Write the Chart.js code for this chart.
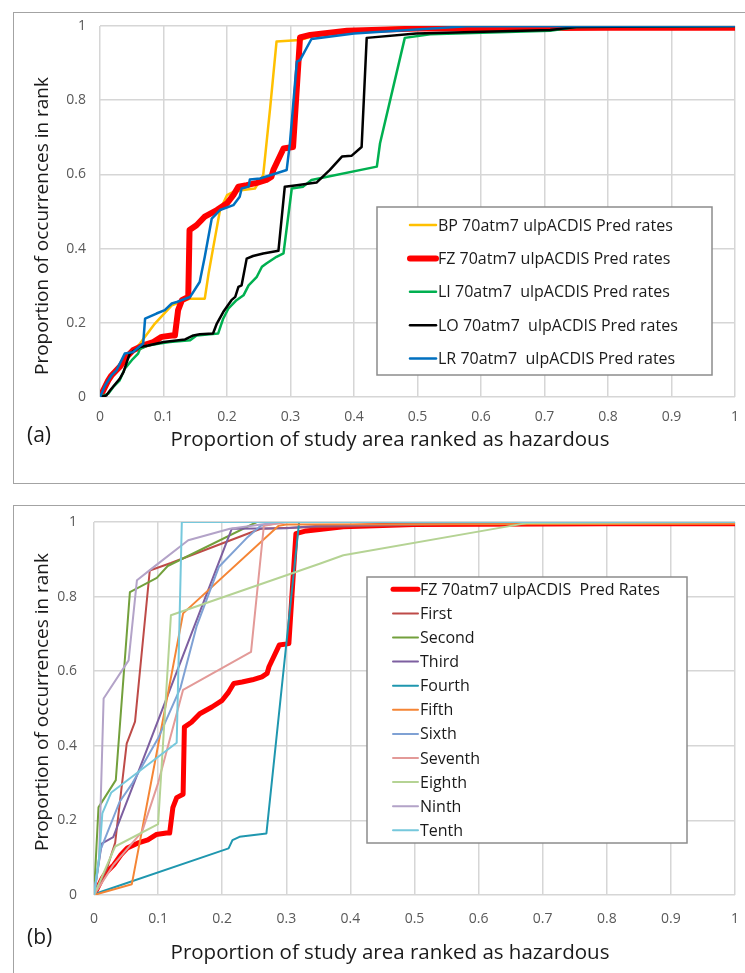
<!DOCTYPE html>
<html>
<head>
<meta charset="utf-8">
<script src="https://cdn.jsdelivr.net/npm/chart.js@4.4.1/dist/chart.umd.min.js"></script>
<style>
  body { margin: 0; width: 745px; height: 973px; overflow: hidden; background: #fff; font-family: 'Open Sans', sans-serif; }
  .panel { position: absolute; left: 13px; width: 780px; border: 1.5px solid #a3a3a3; }
  #pa { top: 12px; height: 470px; }
  #pb { top: 505px; height: 520px; }
  .wrap { position: absolute; left: 0; width: 745px; }
  #wa { top: 0; height: 480px; }
  #wb { top: 495px; height: 478px; }
  .tag { position: absolute; left: 27px; font-size: 21px; color: #1a1a1a; line-height: 24px; }
  .xt, .yt { position: absolute; white-space: nowrap; color: #1a1a1a; line-height: 24px; }
  .xt { font-size: 20.5px; transform: translate(-50%, -50%); }
  .yt { font-size: 19px; transform: translate(-50%, -50%) rotate(-90deg); }
</style>
</head>
<body>
<div class="panel" id="pa"></div>
<div class="panel" id="pb"></div>
<div class="wrap" id="wa"><canvas id="chartA" width="745" height="480"></canvas></div>
<div class="wrap" id="wb"><canvas id="chartB" width="745" height="478"></canvas></div>
<div class="tag" style="top:422px">(a)</div>
<div class="tag" style="top:924px">(b)</div>
<div class="xt" style="left:390px; top:438px">Proportion of study area ranked as hazardous</div>
<div class="xt" style="left:390px; top:951px">Proportion of study area ranked as hazardous</div>
<div class="yt" style="left:41px; top:226px">Proportion of occurrences in rank</div>
<div class="yt" style="left:41px; top:702px">Proportion of occurrences in rank</div>
<script>
// --- panel (a) ---
var bpX = [0, 0.01, 0.02, 0.03, 0.045, 0.063, 0.085, 0.113, 0.142, 0.165, 0.171, 0.178, 0.189, 0.2, 0.21, 0.225, 0.244, 0.257, 0.268, 0.278, 0.315, 0.35, 0.4, 0.49, 1];
var bpY = [0, 0.03, 0.06, 0.085, 0.11, 0.144, 0.195, 0.247, 0.265, 0.265, 0.333, 0.4, 0.504, 0.544, 0.553, 0.558, 0.562, 0.598, 0.78, 0.958, 0.962, 0.98, 0.99, 0.997, 1];

var fzX = [0, 0.013, 0.018, 0.031, 0.042, 0.052, 0.068, 0.084, 0.097, 0.113, 0.118, 0.123, 0.129, 0.139, 0.141, 0.152, 0.165, 0.184, 0.2, 0.21, 0.218, 0.231, 0.247, 0.262, 0.27, 0.273, 0.289, 0.304, 0.315, 0.331, 0.389, 0.5, 0.8, 1];
var fzY = [0, 0.045, 0.058, 0.081, 0.108, 0.126, 0.139, 0.148, 0.162, 0.166, 0.166, 0.234, 0.261, 0.27, 0.45, 0.463, 0.486, 0.504, 0.522, 0.544, 0.567, 0.571, 0.577, 0.585, 0.594, 0.612, 0.67, 0.674, 0.969, 0.976, 0.987, 0.993, 0.995, 0.995];

var liX = [0, 0.013, 0.021, 0.031, 0.039, 0.052, 0.06, 0.063, 0.076, 0.094, 0.11, 0.142, 0.152, 0.186, 0.194, 0.202, 0.215, 0.226, 0.234, 0.247, 0.255, 0.262, 0.278, 0.289, 0.302, 0.32, 0.333, 0.436, 0.441, 0.48, 0.52, 0.709, 0.75, 1];
var liY = [0, 0.009, 0.027, 0.045, 0.076, 0.103, 0.117, 0.13, 0.139, 0.144, 0.148, 0.153, 0.166, 0.171, 0.211, 0.238, 0.261, 0.274, 0.301, 0.324, 0.351, 0.36, 0.378, 0.387, 0.562, 0.567, 0.585, 0.621, 0.684, 0.968, 0.978, 0.987, 0.997, 1];

var loX = [0, 0.01, 0.016, 0.031, 0.037, 0.045, 0.047, 0.063, 0.076, 0.1, 0.134, 0.147, 0.157, 0.178, 0.184, 0.194, 0.207, 0.213, 0.218, 0.223, 0.231, 0.241, 0.257, 0.281, 0.291, 0.31, 0.341, 0.362, 0.381, 0.396, 0.412, 0.42, 0.498, 0.709, 0.75, 1];
var loY = [0, 0.004, 0.018, 0.049, 0.067, 0.108, 0.117, 0.135, 0.139, 0.148, 0.155, 0.166, 0.169, 0.171, 0.198, 0.229, 0.261, 0.27, 0.297, 0.301, 0.373, 0.38, 0.387, 0.394, 0.567, 0.571, 0.578, 0.612, 0.648, 0.65, 0.674, 0.968, 0.98, 0.989, 0.997, 1];

var lrX = [0, 0.008, 0.018, 0.026, 0.039, 0.052, 0.058, 0.068, 0.071, 0.089, 0.102, 0.113, 0.121, 0.142, 0.157, 0.165, 0.176, 0.189, 0.21, 0.22, 0.223, 0.234, 0.236, 0.252, 0.294, 0.299, 0.31, 0.315, 0.333, 0.4, 0.577, 1];
var lrY = [0, 0.031, 0.058, 0.072, 0.117, 0.121, 0.13, 0.144, 0.211, 0.225, 0.234, 0.252, 0.256, 0.27, 0.31, 0.378, 0.481, 0.504, 0.517, 0.54, 0.562, 0.567, 0.586, 0.589, 0.612, 0.683, 0.904, 0.908, 0.965, 0.98, 0.999, 1];

// --- panel (b): rank curves ---
var firstX = [0, 0.02, 0.033, 0.051, 0.064, 0.087, 0.12, 0.26, 0.32, 0.7, 1];
var firstY = [0, 0.07, 0.14, 0.406, 0.465, 0.87, 0.89, 0.982, 0.985, 1, 1];
var secondX = [0, 0.007, 0.034, 0.056, 0.098, 0.115, 0.254, 1];
var secondY = [0, 0.235, 0.308, 0.812, 0.85, 0.882, 1, 1];
var thirdX = [0, 0.012, 0.03, 0.215, 0.3, 0.35, 0.7, 1];
var thirdY = [0, 0.138, 0.155, 0.982, 0.983, 0.99, 1, 1];
var fourthX = [0, 0.01, 0.21, 0.216, 0.227, 0.269, 0.32, 1];
var fourthY = [0, 0.008, 0.125, 0.147, 0.156, 0.165, 1, 1];
var fifthX = [0, 0.059, 0.139, 0.288, 0.3, 1];
var fifthY = [0, 0.029, 0.755, 0.99, 0.993, 0.995];
var sixthX = [0, 0.01, 0.04, 0.06, 0.1, 0.135, 0.16, 0.195, 0.24, 0.26, 0.3, 1];
var sixthY = [0, 0.12, 0.25, 0.3, 0.42, 0.556, 0.72, 0.88, 0.96, 0.99, 1, 1];
var seventhX = [0, 0.03, 0.075, 0.1, 0.139, 0.245, 0.265, 0.3, 1];
var seventhY = [0, 0.08, 0.17, 0.3, 0.55, 0.652, 0.99, 1, 1];
var eighthX = [0, 0.033, 0.1, 0.12, 0.352, 0.389, 0.675, 1];
var eighthY = [0, 0.13, 0.19, 0.75, 0.888, 0.911, 0.997, 1];
var ninthX = [0, 0.008, 0.015, 0.054, 0.067, 0.09, 0.147, 0.212, 0.29, 1];
var ninthY = [0, 0.1, 0.527, 0.629, 0.844, 0.875, 0.951, 0.982, 1, 1];
var tenthX = [0, 0.008, 0.013, 0.027, 0.129, 0.137, 1];
var tenthY = [0, 0.1, 0.219, 0.275, 0.408, 1, 1];

var xTicks = [0, 0.1, 0.2, 0.3, 0.4, 0.5, 0.6, 0.7, 0.8, 0.9, 1];
var yTicks = [0, 0.2, 0.4, 0.6, 0.8, 1];

var FONT = "'Open Sans', sans-serif";

function pts(xs, ys) {
  return xs.map(function (x, i) { return { x: x, y: ys[i] }; });
}

function line(label, xs, ys, color, width) {
  return { label: label, data: pts(xs, ys), borderColor: color, borderWidth: width, fill: false };
}

function fmt(v) {
  return String(Number(v.toFixed(1)));
}

// legend box drawn inside the plot
var boxLegend = {
  id: 'boxLegend',
  afterDatasetsDraw: function (chart, args, o) {
    var ctx = chart.ctx;
    ctx.save();
    ctx.fillStyle = '#fff';
    ctx.fillRect(o.x, o.y, o.w, o.h);
    ctx.strokeStyle = '#8c8c8c';
    ctx.lineWidth = 1.5;
    ctx.strokeRect(o.x, o.y, o.w, o.h);
    ctx.font = o.font;
    ctx.textBaseline = 'middle';
    ctx.lineCap = 'round';
    chart.data.datasets.forEach(function (ds, i) {
      var y = o.first + i * o.step;
      ctx.strokeStyle = ds.borderColor;
      ctx.lineWidth = Math.min(ds.borderWidth, o.maxLine);
      ctx.beginPath();
      ctx.moveTo(o.l0, y);
      ctx.lineTo(o.l1, y);
      ctx.stroke();
      ctx.fillStyle = '#1a1a1a';
      ctx.fillText(ds.label, o.tx, y + 1);
    });
    ctx.restore();
  }
};

function makeChart(id, datasets, g, legend) {
  // later series on top, like the spreadsheet
  datasets.forEach(function (d, i) { d.order = datasets.length - i; });
  return new Chart(document.getElementById(id), {
    type: 'line',
    data: { datasets: datasets },
    plugins: [boxLegend],
    options: {
      responsive: false,
      animation: false,
      devicePixelRatio: 1,
      layout: { padding: { left: 0, top: g.top, right: 10, bottom: 0 } },
      elements: { point: { radius: 0 }, line: { tension: 0, borderJoinStyle: 'round' } },
      plugins: { legend: { display: false }, tooltip: { enabled: false }, boxLegend: legend },
      scales: {
        x: {
          type: 'linear', min: 0, max: 1,
          afterBuildTicks: function (s) { s.ticks = xTicks.map(function (v) { return { value: v }; }); },
          ticks: { color: '#595959', font: { family: FONT, size: 14 }, padding: g.xTickPad, maxRotation: 0, autoSkip: false, callback: fmt },
          grid: { color: '#d6d6d6', lineWidth: 1.5, drawTicks: false },
          border: { display: false },
          afterFit: function (s) { s.height = g.xH; s.paddingLeft = 0; s.paddingRight = 0; }
        },
        y: {
          type: 'linear', min: 0, max: 1,
          afterBuildTicks: function (s) { s.ticks = yTicks.map(function (v) { return { value: v }; }); },
          ticks: { color: '#595959', font: { family: FONT, size: 14 }, padding: g.yTickPad, callback: fmt },
          grid: { color: '#d6d6d6', lineWidth: 1.5, drawTicks: false },
          border: { display: false },
          afterFit: function (s) { s.width = g.yW; s.paddingTop = 0; s.paddingBottom = 0; }
        }
      }
    }
  });
}

makeChart('chartA', [
  line('BP 70atm7 ulpACDIS Pred rates', bpX, bpY, '#FFC000', 2.5),
  line('FZ 70atm7 ulpACDIS Pred rates', fzX, fzY, '#FF0000', 6),
  line('LI 70atm7  ulpACDIS Pred rates', liX, liY, '#00B050', 2.5),
  line('LO 70atm7  ulpACDIS Pred rates', loX, loY, '#000000', 2.5),
  line('LR 70atm7  ulpACDIS Pred rates', lrX, lrY, '#0070C0', 2.5)
], { top: 26, yW: 100, xH: 83, xTickPad: 12, yTickPad: 14 },
{ x: 377, y: 207, w: 335, h: 168, first: 225, step: 33.4, l0: 410, l1: 436, tx: 438, maxLine: 6,
  font: "16px 'Open Sans', sans-serif" });

makeChart('chartB', [
  line('FZ 70atm7 ulpACDIS  Pred Rates', fzX, fzY, '#FF0000', 5),
  line('First', firstX, firstY, '#BE4B48', 2),
  line('Second', secondX, secondY, '#73A03C', 2),
  line('Third', thirdX, thirdY, '#7D5FA0', 2),
  line('Fourth', fourthX, fourthY, '#1F97AF', 2),
  line('Fifth', fifthX, fifthY, '#F58535', 2),
  line('Sixth', sixthX, sixthY, '#7FA1D4', 2),
  line('Seventh', seventhX, seventhY, '#E39A98', 2),
  line('Eighth', eighthX, eighthY, '#B5D394', 2),
  line('Ninth', ninthX, ninthY, '#B3A3C8', 2),
  line('Tenth', tenthX, tenthY, '#76C8DC', 2)
], { top: 27, yW: 94, xH: 78, xTickPad: 16, yTickPad: 17 },
{ x: 367, y: 82, w: 320, h: 266, first: 94.3, step: 24.1, l0: 393, l1: 418, tx: 420, maxLine: 5,
  font: "16px 'Open Sans', sans-serif" });
</script>
</body>
</html>
